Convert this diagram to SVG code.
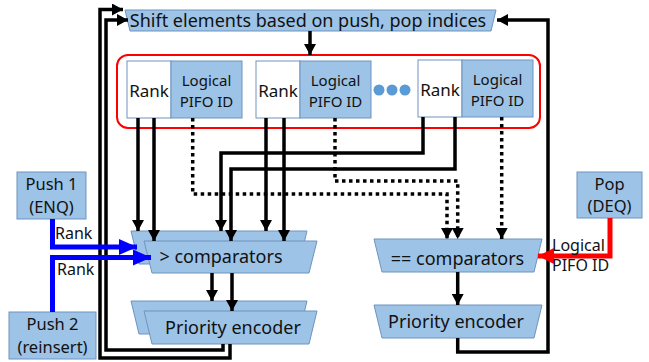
<svg xmlns="http://www.w3.org/2000/svg" width="649" height="362" viewBox="0 0 649 362">
<style>
.n{fill:#9DC3E6;stroke:#6F93BF;stroke-width:1}
.w{fill:#fff;stroke:#6F93BF;stroke-width:1}
text{font-family:"Noto Sans","Open Sans","DejaVu Sans",sans-serif;fill:#111}
.t18{font-size:18px}
.t17{font-size:17px}
.t165{font-size:16.5px}
.t16{font-size:16px}
.t15{font-size:15px}
.m{text-anchor:middle}
.k{fill:none;stroke:#000;stroke-width:3.5}
.d{fill:none;stroke:#000;stroke-width:3.5;stroke-dasharray:3.5 3.5}
</style>
<defs>
<marker id="ak" markerUnits="userSpaceOnUse" markerWidth="11" markerHeight="12" refX="11" refY="6" orient="auto"><path d="M0,0 L11,6 L0,12 z" fill="#000"/></marker>
<marker id="ab" markerUnits="userSpaceOnUse" markerWidth="18" markerHeight="16" refX="18" refY="8" orient="auto"><path d="M0,0 L18,8 L0,16 z" fill="#0000FF"/></marker>
<marker id="ar" markerUnits="userSpaceOnUse" markerWidth="16" markerHeight="16" refX="16" refY="8" orient="auto"><path d="M0,0 L16,8 L0,16 z" fill="#FF0000"/></marker>
</defs>

<g id="shift">
<polygon class="n" points="125,10 496,10 491,31 130,31"/>
<text class="t18 m" x="308" y="26.5">Shift elements based on push, pop indices</text>
</g>

<g id="pifo">
<rect x="117" y="55" width="423" height="73" rx="11" fill="none" stroke="#FF0000" stroke-width="2"/>
<g id="cell1">
<rect class="w" x="127" y="61" width="44" height="57"/>
<rect class="n" x="171" y="61" width="71" height="57"/>
<text class="t17 m" x="149" y="97">Rank</text>
<text class="t15 m" x="206.5" y="86">Logical<tspan x="206.5" dy="20.5">PIFO ID</tspan></text>
</g>
<g id="cell2">
<rect class="w" x="256" y="61" width="44" height="57"/>
<rect class="n" x="300" y="61" width="71" height="57"/>
<text class="t17 m" x="278" y="97">Rank</text>
<text class="t15 m" x="335.5" y="86">Logical<tspan x="335.5" dy="20.5">PIFO ID</tspan></text>
</g>
<g id="dots">
<circle cx="379" cy="90" r="5.5" fill="#5B9BD5"/>
<circle cx="392" cy="90" r="5.5" fill="#5B9BD5"/>
<circle cx="405" cy="90" r="5.5" fill="#5B9BD5"/>
</g>
<g id="cell3">
<rect class="w" x="418" y="60" width="44" height="57"/>
<rect class="n" x="462" y="60" width="71" height="57"/>
<text class="t17 m" x="440" y="96">Rank</text>
<text class="t15 m" x="497.5" y="85">Logical<tspan x="497.5" dy="20.5">PIFO ID</tspan></text>
</g>
</g>

<g id="push1">
<rect class="n" x="17" y="172" width="69" height="47"/>
<text class="t165 m" x="51.5" y="190">Push 1<tspan x="51.5" dy="22.5">(ENQ)</tspan></text>
</g>
<g id="push2">
<rect class="n" x="9" y="312" width="87" height="47"/>
<text class="t165 m" x="52.5" y="330">Push 2<tspan x="52.5" dy="22.5">(reinsert)</tspan></text>
</g>
<g id="pop">
<rect class="n" x="577" y="172" width="65" height="46"/>
<text class="t165 m" x="609.5" y="189.5">Pop<tspan x="609.5" dy="22.5">(DEQ)</tspan></text>
</g>

<g id="gtcomp">
<polygon class="n" points="131,231 307,231 299,264 139,264"/>
<polygon class="n" points="144,241 317,241 309,273 152,273"/>
<text class="t18 m" x="221" y="263">&gt; comparators</text>
</g>
<g id="penc1">
<polygon class="n" points="131,301 307,301 299,334 139,334"/>
<polygon class="n" points="144,311 317,311 309,344 152,344"/>
<text class="t18 m" x="233" y="334">Priority encoder</text>
</g>
<g id="eqcomp">
<polygon class="n" points="374,239 542,239 534,272 382,272"/>
<text class="t18 m" x="457.5" y="265">== comparators</text>
</g>
<g id="penc2">
<polygon class="n" points="374,305 542,305 534,338 382,338"/>
<text class="t18 m" x="456" y="328">Priority encoder</text>
</g>

<g id="connectors">
<path class="k" d="M310,31 V55" marker-end="url(#ak)"/>
<path class="k" d="M230,344 V358 H100 V9.5 H123" marker-end="url(#ak)"/>
<path class="k" d="M223,344 V350 H106 V20 H128" marker-end="url(#ak)"/>
<path class="k" d="M457.7,338 V352 H548 V20 H497" marker-end="url(#ak)"/>
<path class="k" d="M138,118 V231" marker-end="url(#ak)"/>
<path class="k" d="M154,118 V241" marker-end="url(#ak)"/>
<path class="k" d="M266,118 V231" marker-end="url(#ak)"/>
<path class="k" d="M284,118 V241" marker-end="url(#ak)"/>
<path class="k" d="M423,117 V153 H221 V231" marker-end="url(#ak)"/>
<path class="k" d="M455,117 V169 H231 V241" marker-end="url(#ak)"/>
<path class="d" d="M192.7,118 V194 H447 V239" marker-end="url(#ak)"/>
<path class="d" d="M335,118 V181 H457.7 V239" marker-end="url(#ak)"/>
<path class="d" d="M501.7,117 V239" marker-end="url(#ak)"/>
<path class="k" d="M212,273 V301" marker-end="url(#ak)"/>
<path class="k" d="M232,273 V311" marker-end="url(#ak)"/>
<path class="k" d="M457.7,272 V305" marker-end="url(#ak)"/>
<path d="M52.5,219 V247 H137" fill="none" stroke="#0000FF" stroke-width="5" marker-end="url(#ab)"/>
<path d="M52.5,312 V257.5 H151" fill="none" stroke="#0000FF" stroke-width="5" marker-end="url(#ab)"/>
<path d="M610,218 V256 H538" fill="none" stroke="#FF0000" stroke-width="5" marker-end="url(#ar)"/>
<text class="t16" x="55" y="239">Rank</text>
<text class="t16" x="57" y="275">Rank</text>
<text class="t16" x="552" y="251">Logical<tspan x="552" dy="20">PIFO ID</tspan></text>
</g>
</svg>
